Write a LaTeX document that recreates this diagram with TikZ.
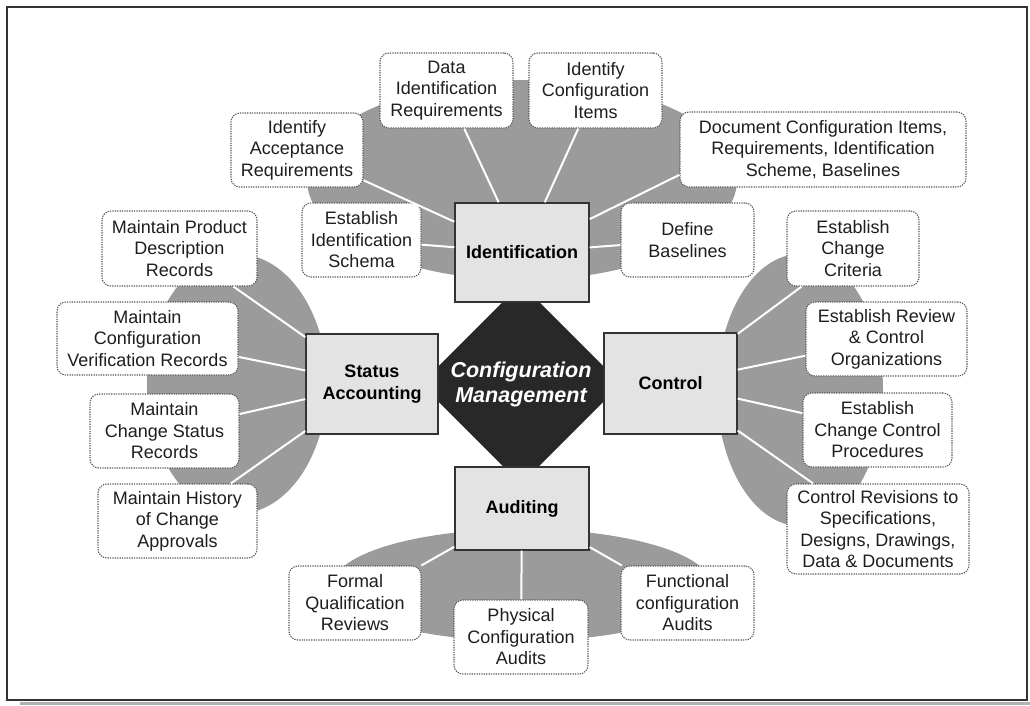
\documentclass[tikz,border=0pt]{standalone}
\usepackage{fontspec}
\setmainfont{Liberation Sans}
\usetikzlibrary{shapes.geometric}
\definecolor{fangray}{HTML}{9B9B9B}
\definecolor{boxgray}{HTML}{E3E3E3}
\definecolor{coredark}{HTML}{282828}
\definecolor{edgegray}{HTML}{333333}
\definecolor{dotgray}{HTML}{5A5A5A}
\definecolor{txtgray}{HTML}{1E1E1E}
\begin{document}
\begin{tikzpicture}[x=1pt,y=1pt]
  \tikzstyle{every node}+=[inner sep=0pt]
  \tikzstyle{subbox}=[draw=dotgray, line width=1.1pt, dash pattern=on 1.3pt off 1.1pt, rounded corners=9pt, fill=white, text=txtgray, align=center, font=\fontsize{18}{21.5}\selectfont]
  \tikzstyle{mainbox}=[draw=edgegray, line width=1.4pt, fill=boxgray, align=center, font=\fontsize{18}{22}\selectfont\bfseries]
  \tikzstyle{spoke}=[white, line width=2pt]
  \useasboundingbox (0,0) rectangle (1030,-705);
  \fill [black!30] (20,-701.5) rectangle (1030,-705);
  \draw [edgegray, line width=1.5pt] (7,-7) rectangle (1027,-700);
  \fill [fangray] (522,-180) ellipse (215 and 100);
  \fill [fangray] (237,-384) ellipse (90 and 130);
  \fill [fangray] (800,-390) ellipse (83 and 136);
  \fill [fangray] (522,-585) ellipse (189 and 56);
  \node [diamond, aspect=1, minimum size=200, fill=coredark, draw=coredark, text=white, align=center, font=\fontsize{21.5}{25}\selectfont\bfseries\itshape] (core) at (521,-384) {Configuration\\Management};
  \node [mainbox, minimum width=134, minimum height=99] (ident) at (522,-252.5) {Identification};
  \node [mainbox, minimum width=132, minimum height=100] (status) at (372,-384) {Status\\Accounting};
  \node [mainbox, minimum width=133, minimum height=101] (control) at (670.5,-383.5) {Control};
  \node [mainbox, minimum width=134, minimum height=83] (audit) at (522,-508.5) {Auditing};
  \node [subbox, minimum width=132, minimum height=74] (accept) at (297,-150) {Identify\\Acceptance\\Requirements};
  \node [subbox, minimum width=133, minimum height=75] (datareq) at (446.5,-90.5) {Data\\Identification\\Requirements};
  \node [subbox, minimum width=133, minimum height=75] (items) at (595.5,-90.5) {Identify\\Configuration\\Items};
  \node [subbox, minimum width=286, minimum height=75] (docitems) at (823,-149.5) {Document Configuration Items,\\Requirements, Identification\\Scheme, Baselines};
  \node [subbox, minimum width=119, minimum height=74] (schema) at (361.5,-240) {Establish\\Identification\\Schema};
  \node [subbox, minimum width=133, minimum height=74] (baselines) at (687.5,-240) {Define\\Baselines};
  \node [subbox, minimum width=155, minimum height=75] (product) at (179.5,-248.5) {Maintain Product\\Description\\Records};
  \node [subbox, minimum width=181, minimum height=73] (verif) at (147.5,-338.5) {Maintain\\Configuration\\Verification Records};
  \node [subbox, minimum width=149, minimum height=74] (chgstatus) at (164.5,-431) {Maintain\\Change Status\\Records};
  \node [subbox, minimum width=159, minimum height=74] (history) at (177.5,-521) {Maintain History\\of Change\\Approvals};
  \node [subbox, minimum width=132, minimum height=75] (criteria) at (853,-248.5) {Establish\\Change\\Criteria};
  \node [subbox, minimum width=161, minimum height=74] (review) at (886.5,-339) {Establish Review\\\& Control\\Organizations};
  \node [subbox, minimum width=149, minimum height=74] (procs) at (877.5,-430) {Establish\\Change Control\\Procedures};
  \node [subbox, minimum width=182, minimum height=90] (revisions) at (878,-529) {Control Revisions to\\Specifications,\\Designs, Drawings,\\Data \& Documents};
  \node [subbox, minimum width=132, minimum height=74] (formal) at (355,-603) {Formal\\Qualification\\Reviews};
  \node [subbox, minimum width=134, minimum height=74] (physical) at (521,-637) {Physical\\Configuration\\Audits};
  \node [subbox, minimum width=133, minimum height=74] (functional) at (687.5,-603) {Functional\\configuration\\Audits};
  \draw [spoke] (ident) -- (accept);
  \draw [spoke] (ident) -- (datareq);
  \draw [spoke] (ident) -- (items);
  \draw [spoke] (ident) -- (docitems.190);
  \draw [spoke] (ident) -- (schema);
  \draw [spoke] (ident) -- (baselines);
  \draw [spoke] (status) -- (product);
  \draw [spoke] (status) -- (verif);
  \draw [spoke] (status) -- (chgstatus);
  \draw [spoke] (status) -- (history);
  \draw [spoke] (control) -- (criteria);
  \draw [spoke] (control) -- (review);
  \draw [spoke] (control) -- (procs);
  \draw [spoke] (control) -- (revisions);
  \draw [spoke] (audit) -- (formal);
  \draw [spoke] (audit) -- (physical);
  \draw [spoke] (audit) -- (functional);
\end{tikzpicture}
\end{document}
